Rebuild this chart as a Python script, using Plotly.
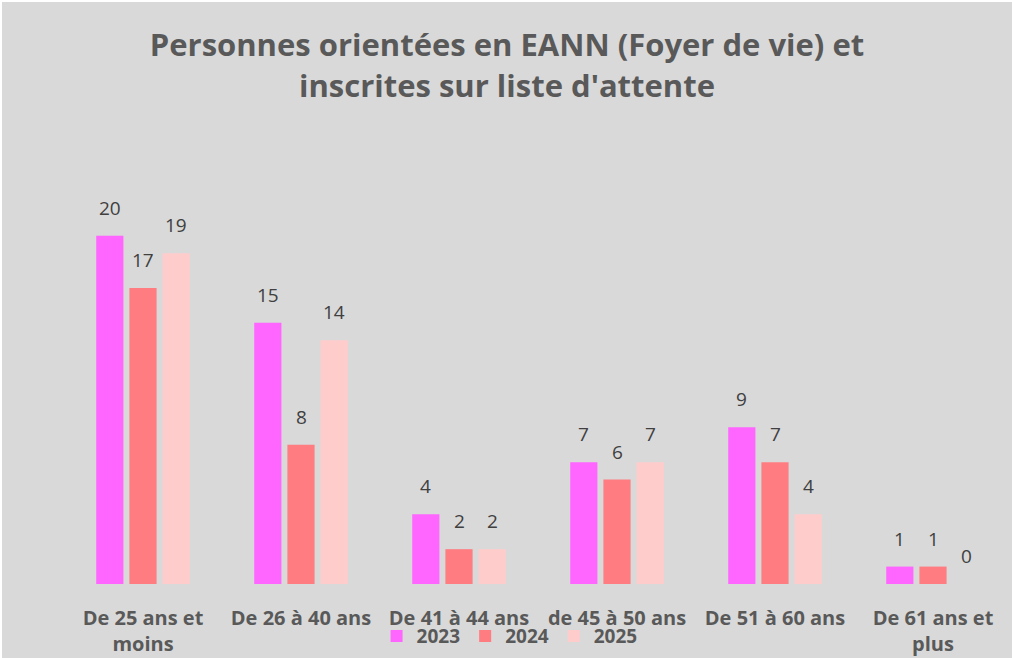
import plotly.graph_objects as go

categories = ["De 25 ans et<br>moins", "De 26 à 40 ans", "De 41 à 44 ans", "de 45 à 50 ans", "De 51 à 60 ans", "De 61 ans et<br>plus"]
series_names = ["2023", "2024", "2025"]
values_2023 = [20, 15, 4, 7, 9, 1]
values_2024 = [17, 8, 2, 6, 7, 1]
values_2025 = [19, 14, 2, 7, 4, 0]
colors = ["#FF66FF", "#FF7C80", "#FFCCCC"]

bargap = 0.37
all_values = [values_2023, values_2024, values_2025]
slot = (1 - bargap) / len(all_values)

fig = go.Figure()
for name, vals, col in zip(series_names, all_values, colors):
    fig.add_trace(go.Bar(
        x=categories, y=vals, name=name, marker=dict(color=col, line=dict(width=0)),
    ))

annotations = []
for k, vals in enumerate(all_values):
    off = (k - (len(all_values) - 1) / 2) * slot
    for i, v in enumerate(vals):
        annotations.append(dict(
            x=i + off, y=v, xref="x", yref="y", text=str(v), showarrow=False,
            yanchor="bottom", yshift=13,
            font=dict(family="Open Sans", size=19, color="#404040"),
        ))

fig.update_layout(
    width=1010, height=656,
    paper_bgcolor="#D9D9D9", plot_bgcolor="#D9D9D9",
    margin=dict(l=62, r=0, t=199, b=74),
    barmode="group", bargap=bargap, bargroupgap=0.18,
    title=dict(text="<b>Personnes orientées en EANN (Foyer de vie) et<br>inscrites sur liste d'attente</b>",
               x=0.5, xanchor="center", y=0.917, yanchor="top",
               font=dict(family="Open Sans", size=31, color="#595959")),
    xaxis=dict(showgrid=False, showline=False, ticks="", tickangle=0, ticklabelstandoff=20,
               tickfont=dict(family="Open Sans", size=20, color="#595959", weight="bold")),
    yaxis=dict(range=[0, 22], visible=False, showgrid=False),
    legend=dict(orientation="h", x=0.47, xanchor="center", y=-0.136, yanchor="middle",
                font=dict(family="Open Sans", size=19, color="#595959", weight="bold"),
                bgcolor="rgba(0,0,0,0)", itemwidth=30, traceorder="normal"),
    annotations=annotations,
    showlegend=True,
)
fig.write_html("out.html", post_script="document.body.style.margin='2px 0 0 2px';")
